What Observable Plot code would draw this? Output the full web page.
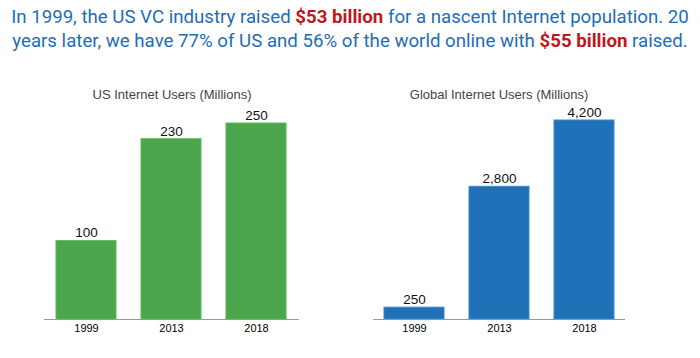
<!DOCTYPE html>
<html>
<head>
<meta charset="utf-8">
<script src="https://cdn.jsdelivr.net/npm/d3@7"></script>
<script src="https://cdn.jsdelivr.net/npm/@observablehq/plot@0.6"></script>
<style>
  body { margin: 0; background: #fff; font-family: "Liberation Sans", Arial, Helvetica, sans-serif; }
  #wrap { position: relative; width: 700px; height: 358px; overflow: hidden; }
  #title { position: absolute; left: 0; top: 5px; width: 700px; text-align: center; color: #1f6db5; font-family: Roboto, "Liberation Sans", sans-serif; font-size: 19px; line-height: 24px; white-space: nowrap; }
  #title b { color: #c0161b; font-weight: bold; }
  #title span { display: inline-block; }
  .ctitle { position: absolute; top: 87px; width: 350px; text-align: center; color: #444; font-size: 13px; }
  .chart { position: absolute; top: 100px; }
</style>
</head>
<body>
<div id="wrap">
  <div id="title"><span id="l1">In 1999, the US VC industry raised <b>$53 billion</b> for a nascent Internet population. 20</span><br><span id="l2">years later, we have 77% of US and 56% of the world online with <b>$55 billion</b> raised.</span></div>
  <div class="ctitle" id="t1" style="left:-3px">US Internet Users (Millions)</div>
  <div class="ctitle" id="t2" style="left:324px">Global Internet Users (Millions)</div>
  <div class="chart" id="c1" style="left:0px"></div>
  <div class="chart" id="c2" style="left:350px"></div>
</div>
<script>
const years = ["1999", "2013", "2018"];
const usUsers = [100, 230, 250];
const globalUsers = [250, 2800, 4200];

// fit title so that the first line spans about 678px, as in the reference
(function fitTitle() {
  const title = document.getElementById("title");
  const l1 = document.getElementById("l1");
  const w = l1.getBoundingClientRect().width;
  const fs = 19 * 678 / w;
  title.style.fontSize = Math.min(fs, 21).toFixed(2) + "px";
})();

function bars(values, color, opts) {
  const data = years.map((y, i) => ({year: y, value: values[i]}));
  return Plot.plot({
    width: 350,
    height: 258,
    marginLeft: opts.ml,
    marginRight: opts.mr,
    marginTop: opts.mt,
    marginBottom: 39,
    style: {fontFamily: "'Liberation Sans', Arial, sans-serif", background: "transparent"},
    x: {domain: years, paddingInner: 0.29, paddingOuter: opts.po, label: null, tickSize: 0, tickPadding: 5},
    y: {domain: [0, opts.max], axis: null},
    marks: [
      Plot.barY(data, {x: "year", y: "value", fill: color, stroke: opts.stroke, strokeWidth: 1}),
      Plot.ruleY([0], {stroke: "#999", strokeWidth: 1.2}),
      Plot.text(data, {x: "year", y: "value", text: d => d3.format(",")(d.value), dy: -8, fontSize: 13.5, fill: "#111"})
    ]
  });
}

const c1 = bars(usUsers, "#4ba64c", {ml: 44, mr: 51, mt: 23, max: 250, po: 0.14, stroke: "#5bb85c"});
const c2 = bars(globalUsers, "#1f72b8", {ml: 23, mr: 75, mt: 20, max: 4200, po: 0.12, stroke: "#3a8ad0"});
for (const c of [c1, c2]) {
  c.querySelectorAll("g[aria-label='x-axis tick label'] text").forEach(t => t.setAttribute("font-size", 11));
}
document.getElementById("c1").appendChild(c1);
document.getElementById("c2").appendChild(c2);
</script>
</body>
</html>
